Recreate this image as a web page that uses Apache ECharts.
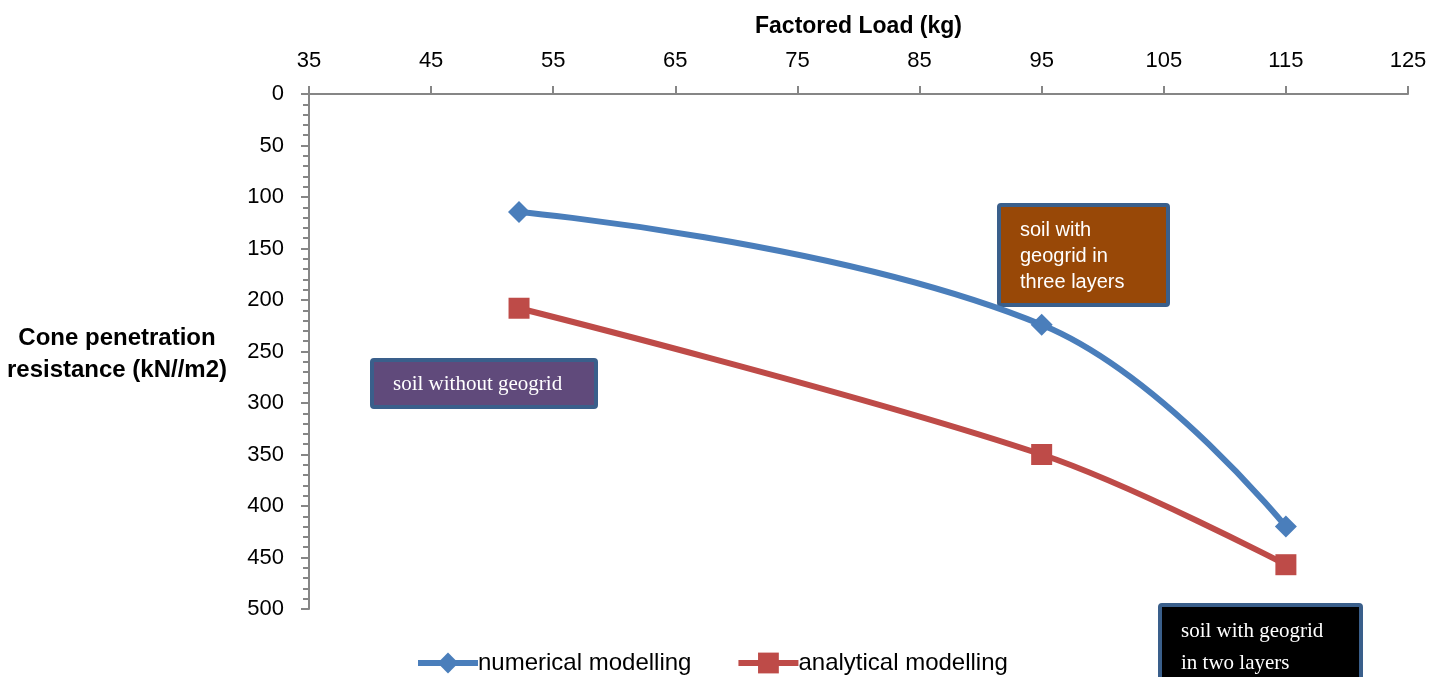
<!DOCTYPE html>
<html><head><meta charset="utf-8">
<script src="https://cdn.jsdelivr.net/npm/echarts@6/dist/echarts.min.js"></script>
<style>html,body{margin:0;padding:0;background:#fff}#c{width:1445px;height:677px}</style>
</head><body><div id="c"></div>
<script>
const xTicks = [35,45,55,65,75,85,95,105,115,125];
const yTicks = [0,50,100,150,200,250,300,350,400,450,500];
const loads = [52.2, 95, 115];
const numerical = [114.5, 224, 420];
const analytical = [208, 350, 457];
const seriesNames = ['numerical modelling', 'analytical modelling'];

const chart = echarts.init(document.getElementById('c'));
const font = 'Liberation Sans, Arial, sans-serif';
const axisCol = '#868686';
const blue = '#4A7EBB', red = '#BE4B48';
chart.setOption({
  animation: false,
  grid: {left: 309, right: 37, top: 94, bottom: 68, containLabel: false},
  xAxis: {
    type: 'value', position: 'top', min: xTicks[0], max: xTicks[xTicks.length-1], interval: 10,
    name: 'Factored Load (kg)', nameLocation: 'middle', nameGap: 56,
    nameTextStyle: {fontFamily: font, fontWeight: 'bold', fontSize: 23, color: '#000'},
    axisLine: {show: true, lineStyle: {color: axisCol, width: 2}},
    axisTick: {show: true, length: 8, lineStyle: {color: axisCol, width: 2}},
    axisLabel: {fontFamily: font, fontSize: 22, color: '#000', margin: 22},
    splitLine: {show: false}
  },
  yAxis: {
    type: 'value', inverse: true, min: yTicks[0], max: yTicks[yTicks.length-1], interval: 50,
    axisLine: {show: true, lineStyle: {color: axisCol, width: 2}},
    axisTick: {show: true, length: 8, lineStyle: {color: axisCol, width: 2}},
    minorTick: {show: true, splitNumber: 5, length: 6, lineStyle: {color: axisCol, width: 2}},
    axisLabel: {fontFamily: font, fontSize: 22, color: '#000', margin: 25},
    splitLine: {show: false}
  },
  legend: {
    top: 646, left: 410, itemGap: 44, itemWidth: 60, itemHeight: 26,
    textStyle: {fontFamily: font, fontSize: 24, color: '#000', padding: [0, 0, 0, -5]},
    lineStyle: {width: 6},
    data: seriesNames
  },
  series: [
    {name: seriesNames[0], type: 'line', smooth: 0.42, data: loads.map((x,i)=>[x, numerical[i]]),
     symbol: 'diamond', symbolSize: 22, lineStyle: {color: blue, width: 6},
     itemStyle: {color: blue}},
    {name: seriesNames[1], type: 'line', smooth: 0.35, data: loads.map((x,i)=>[x, analytical[i]]),
     symbol: 'rect', symbolSize: 21, lineStyle: {color: red, width: 6},
     itemStyle: {color: red}}
  ],
  graphic: [
    {type: 'text', position: [117, 354], style: {text: 'Cone penetration\nresistance (kN//m2)', x: 0, y: 0,
      font: 'bold 24px ' + font, fill: '#000', align: 'center', verticalAlign: 'middle', lineHeight: 32}},
    {type: 'group', position: [372, 360], children: [
      {type: 'rect', shape: {x: 0, y: 0, width: 224, height: 47, r: 2},
       style: {fill: '#604A7B', stroke: '#3A5F8B', lineWidth: 4}},
      {type: 'text', style: {x: 21, y: 24, text: 'soil without geogrid', font: '21px Liberation Serif, serif', fill: '#fff', verticalAlign: 'middle'}}
    ]},
    {type: 'group', position: [999, 205], children: [
      {type: 'rect', shape: {x: 0, y: 0, width: 169, height: 100, r: 2},
       style: {fill: '#984807', stroke: '#3A5F8B', lineWidth: 4}},
      {type: 'text', style: {x: 21, y: 12, text: 'soil with\ngeogrid in\nthree layers', font: '20px ' + font, fill: '#fff', lineHeight: 26}}
    ]},
    {type: 'group', position: [1160, 605], children: [
      {type: 'rect', shape: {x: 0, y: 0, width: 201, height: 76, r: 2},
       style: {fill: '#000', stroke: '#3A5F8B', lineWidth: 4}},
      {type: 'text', style: {x: 21, y: 10, text: 'soil with geogrid\nin two layers', font: '21px Liberation Serif, serif', fill: '#fff', lineHeight: 32}}
    ]}
  ]
});
</script></body></html>
